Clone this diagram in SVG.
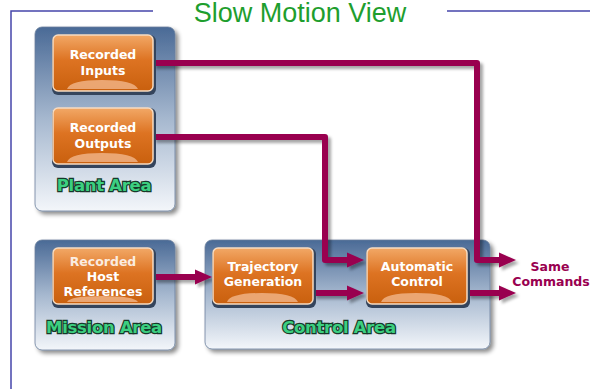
<svg xmlns="http://www.w3.org/2000/svg" width="590" height="389" viewBox="0 0 590 389">
<defs>
<linearGradient id="panelG" x1="0" y1="0" x2="0" y2="1">
<stop offset="0" stop-color="#4a6a96"/>
<stop offset="0.5" stop-color="#a6b8cf"/>
<stop offset="1" stop-color="#f3f6fa"/>
</linearGradient>
<linearGradient id="boxG" x1="0" y1="0" x2="0" y2="1">
<stop offset="0" stop-color="#f2a866"/>
<stop offset="0.45" stop-color="#dd7322"/>
<stop offset="1" stop-color="#c9600e"/>
</linearGradient>
<filter id="sh" x="-10%" y="-10%" width="130%" height="130%">
<feDropShadow dx="3" dy="3" stdDeviation="2" flood-color="#000" flood-opacity="0.45"/>
</filter>
<filter id="csh" x="-10%" y="-10%" width="130%" height="130%">
<feDropShadow dx="3" dy="3" stdDeviation="1.5" flood-color="#000" flood-opacity="0.35"/>
</filter>
<marker id="ah" markerUnits="userSpaceOnUse" markerWidth="18" markerHeight="16" refX="2" refY="8" orient="auto">
<path d="M0,0.5 L17,8 L0,15.5 z" fill="#990050"/>
</marker>
</defs>
<style>
.frame{stroke:#4646aa;stroke-width:1.5;fill:none}
.title{font-family:"Liberation Sans",Arial,sans-serif;font-size:27px;fill:#1e9e2e}
.panel{fill:url(#panelG);stroke:#6a7f9c;stroke-width:0.8;filter:url(#sh)}
.boxo{fill:#34445c}
.box{fill:url(#boxG);stroke:#f6dcc2;stroke-width:1.5}
.hl{fill:#f0b184;opacity:0.85}
.bt{font-family:"DejaVu Sans",Verdana,sans-serif;font-weight:bold;font-size:12.5px;fill:#fff;text-anchor:middle}
.area{font-family:"DejaVu Sans",Verdana,sans-serif;font-weight:bold;font-size:16.5px;fill:#3ccf80;stroke:#17382a;stroke-width:2.4;paint-order:stroke;text-anchor:middle;letter-spacing:-0.3px}
.conn{fill:none;stroke:#990050;stroke-width:6;stroke-linejoin:round}
.lab{font-family:"DejaVu Sans",Verdana,sans-serif;font-weight:bold;font-size:12.5px;fill:#990050;text-anchor:middle}
</style>
<rect width="590" height="389" fill="#fff"/>
<g id="frame">
<path class="frame" d="M11,389 V11 H153 M447,11 H590"/>
<text class="title" x="300" y="22" text-anchor="middle">Slow Motion View</text>
</g>
<g id="plant-area">
<rect class="panel" x="35" y="27" width="140" height="184" rx="7"/>
<text class="area" x="104" y="191">Plant Area</text>
</g>
<g id="mission-area">
<rect class="panel" x="35" y="240" width="140" height="110" rx="7"/>
<text class="area" x="104" y="333">Mission Area</text>
</g>
<g id="control-area">
<rect class="panel" x="205" y="240" width="285" height="109" rx="7"/>
<text class="area" x="339" y="333">Control Area</text>
</g>
<g id="connectors" filter="url(#csh)">
<path class="conn" d="M153,63 H477 V260 H501" marker-end="url(#ah)"/>
<path class="conn" d="M153,137 H325 V260 H349" marker-end="url(#ah)"/>
<path class="conn" d="M153,277 H197" marker-end="url(#ah)"/>
<path class="conn" d="M313,293 H349" marker-end="url(#ah)"/>
<path class="conn" d="M467,293 H501" marker-end="url(#ah)"/>
</g>
<g id="recorded-inputs">
<rect class="boxo" x="52" y="35" width="104" height="60" rx="6"/>
<rect class="box" x="53" y="35" width="100" height="56" rx="5"/>
<path class="hl" d="M67,89 Q70,80 102,80 Q134,80 138,89 z"/>
<text class="bt" x="103" y="59">Recorded</text>
<text class="bt" x="103" y="75">Inputs</text>
</g>
<g id="recorded-outputs">
<rect class="boxo" x="52" y="108" width="104" height="60" rx="6"/>
<rect class="box" x="53" y="108" width="100" height="56" rx="5"/>
<path class="hl" d="M67,162 Q70,153 102,153 Q134,153 138,162 z"/>
<text class="bt" x="103" y="132">Recorded</text>
<text class="bt" x="103" y="148">Outputs</text>
</g>
<g id="recorded-host-references">
<rect class="boxo" x="52" y="248" width="104" height="60" rx="6"/>
<rect class="box" x="53" y="248" width="100" height="56" rx="5"/>
<path class="hl" d="M67,302 Q70,296 102,296 Q134,296 138,302 z"/>
<text class="bt" x="103" y="266" fill-opacity="0.85">Recorded</text>
<text class="bt" x="103" y="281">Host</text>
<text class="bt" x="103" y="296">References</text>
</g>
<g id="trajectory-generation">
<rect class="boxo" x="212" y="248" width="104" height="60" rx="6"/>
<rect class="box" x="213" y="248" width="100" height="56" rx="5"/>
<path class="hl" d="M227,302 Q230,293 262,293 Q294,293 298,302 z"/>
<text class="bt" x="263" y="271">Trajectory</text>
<text class="bt" x="263" y="286">Generation</text>
</g>
<g id="automatic-control">
<rect class="boxo" x="366" y="248" width="104" height="60" rx="6"/>
<rect class="box" x="367" y="248" width="100" height="56" rx="5"/>
<path class="hl" d="M381,302 Q384,293 416,293 Q448,293 452,302 z"/>
<text class="bt" x="417" y="271">Automatic</text>
<text class="bt" x="417" y="286">Control</text>
</g>
<g id="same-commands">
<text class="lab" x="550" y="271">Same</text>
<text class="lab" x="551" y="286">Commands</text>
</g>
</svg>
